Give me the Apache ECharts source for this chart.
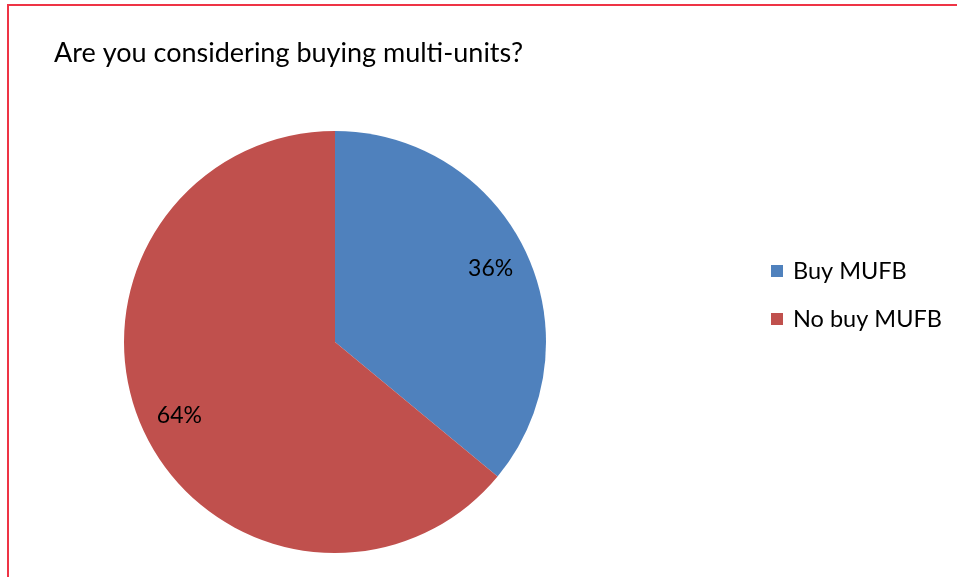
<!DOCTYPE html>
<html>
<head>
<meta charset="utf-8">
<script src="https://cdn.jsdelivr.net/npm/echarts@6/dist/echarts.min.js"></script>
<style>
  html, body { margin: 0; padding: 0; background: #ffffff; }
  #frame {
    position: absolute; left: 7px; top: 4px; width: 960px; height: 600px;
    border-top: 2px solid #ee3445; border-left: 2px solid #ee3445;
  }
  #chart { position: absolute; left: 0; top: 0; width: 957px; height: 577px; }
</style>
</head>
<body>
<div id="frame"></div>
<div id="chart"></div>
<script>
// Survey answers: share of respondents
const categories = ['Buy MUFB', 'No buy MUFB'];
const shares = [36, 64];
const sliceColors = ['#4f81bd', '#c0504d'];

const pieData = categories.map((name, i) => ({
  name: name,
  value: shares[i],
  itemStyle: { color: sliceColors[i] }
}));

const FONT = 'Lato';
const chart = echarts.init(document.getElementById('chart'), null, { renderer: 'canvas' });

chart.setOption({
  backgroundColor: 'transparent',
  animation: false,
  title: {
    text: 'Are you considering buying multi-units?',
    left: 49,
    top: 35,
    textStyle: { fontFamily: FONT, fontSize: 27, fontWeight: 'normal', color: '#000000' }
  },
  legend: {
    orient: 'vertical',
    left: 766,
    top: 254,
    itemWidth: 12,
    itemHeight: 12,
    itemGap: 24,
    icon: 'rect',
    data: categories,
    textStyle: { fontFamily: FONT, fontSize: 23.5, color: '#000000', padding: [0, 0, 0, 5] }
  },
  series: [
    {
      type: 'pie',
      center: [335, 342],
      radius: [0, 211],
      startAngle: 90,
      clockwise: true,
      data: pieData,
      label: { show: false },
      labelLine: { show: false },
      emphasis: { disabled: true }
    },
    {
      // transparent ring that places the percentage labels at 80% of the radius
      type: 'pie',
      center: [335, 342],
      radius: [127, 211],
      startAngle: 90,
      clockwise: true,
      silent: true,
      data: categories.map((name, i) => ({ name: name, value: shares[i] })),
      itemStyle: { color: 'rgba(0,0,0,0)' },
      label: {
        show: true,
        position: 'inside',
        formatter: p => p.value + '%',
        fontFamily: FONT,
        fontSize: 23,
        color: '#000000'
      },
      labelLine: { show: false },
      emphasis: { disabled: true }
    }
  ]
});
</script>
</body>
</html>
